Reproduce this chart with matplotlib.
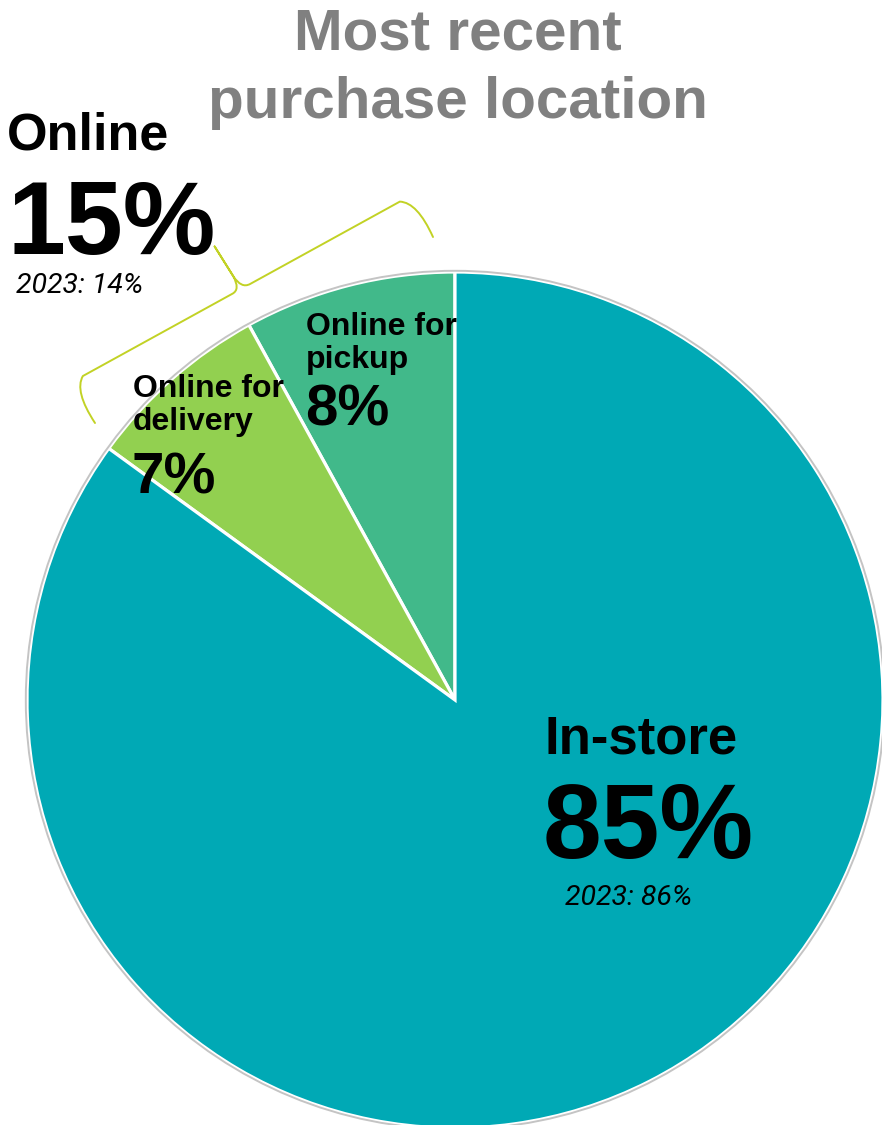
import numpy as np
import matplotlib
matplotlib.use("Agg")
import matplotlib.pyplot as plt
from matplotlib.path import Path
from matplotlib.patches import PathPatch, Circle

# Share of most recent purchases by location (counter-clockwise from 12 o'clock)
segments = ["Online for pickup", "Online for delivery", "In-store"]
shares = [8, 7, 85]
colors = ["#41B98A", "#92D050", "#00A9B5"]

online_total = 15
online_prev = 14
instore_total = 85
instore_prev = 86

W, H = 882, 1125
fig = plt.figure(figsize=(W / 100, H / 100), dpi=100)
ax = fig.add_axes([0, 0, 1, 1])


def Y(p):
    """Convert a top-down pixel row to the axes' bottom-up y coordinate."""
    return H - p


cx, cy, r = 455, Y(700), 428
ax.pie(shares, colors=colors, startangle=90, counterclock=True,
       center=(cx, cy), radius=r,
       wedgeprops=dict(edgecolor="white", linewidth=2.3))
ax.add_patch(Circle((cx, cy), r + 1.2, fill=False, edgecolor="#C4C4C4", lw=1.4))
ax.set_xlim(0, W)
ax.set_ylim(0, H)
ax.set_aspect("equal")
ax.axis("off")

bold = dict(family="Liberation Sans", fontweight="bold", color="black")
note = dict(family="Roboto", fontweight="normal", style="italic", color="black")

# Title
ax.text(458, Y(50), "Most recent", ha="center", va="baseline", fontsize=42,
        family="Liberation Sans", fontweight="bold", color="#808080")
ax.text(458, Y(118), "purchase location", ha="center", va="baseline", fontsize=42,
        family="Liberation Sans", fontweight="bold", color="#808080")

# Online summary
ax.text(7, Y(150), "Online", ha="left", va="baseline", fontsize=37.5, **bold)
ax.text(8, Y(254), f"{online_total}%", ha="left", va="baseline", fontsize=75, **bold)
ax.text(16, Y(293), f"2023: {online_prev}%", ha="left", va="baseline", fontsize=20.5, **note)

# Segment labels
ax.text(306, Y(335), "Online for", ha="left", va="baseline", fontsize=23, **bold)
ax.text(306, Y(368), "pickup", ha="left", va="baseline", fontsize=23, **bold)
ax.text(305, Y(426), f"{shares[0]}%", ha="left", va="baseline", fontsize=42, **bold)

ax.text(133, Y(397), "Online for", ha="left", va="baseline", fontsize=23, **bold)
ax.text(133, Y(430), "delivery", ha="left", va="baseline", fontsize=23, **bold)
ax.text(132, Y(493), f"{shares[1]}%", ha="left", va="baseline", fontsize=42, **bold)

ax.text(544, Y(753), "In-store", ha="left", va="baseline", fontsize=38, **bold)
ax.text(543, Y(858), f"{instore_total}%", ha="left", va="baseline", fontsize=76, **bold)
ax.text(565, Y(905), f"2023: {instore_prev}%", ha="left", va="baseline", fontsize=20.5, **note)

# Curly brace grouping the two online segments
A = np.array([95.0, Y(423)])
B = np.array([433.0, Y(237)])
L = np.linalg.norm(B - A)
u = (B - A) / L
n = np.array([-u[1], u[0]])  # outward normal (away from the pie)
if np.dot(n, np.array([cx, cy]) - A) > 0:
    n = -n

h, tip, m = 47, 97, L / 2
local = [
    (0, 0), (-3, 38), (12, h),
    (m - 10, h), (m - 1, h), (m - 1, 62),
    (m - 3, tip),
    (m - 1, 62), (m, h), (m + 10, h),
    (L - 12, h), (L + 3, 38), (L, 0),
]
codes = [Path.MOVETO, Path.CURVE3, Path.CURVE3,
         Path.LINETO, Path.CURVE3, Path.CURVE3,
         Path.LINETO,
         Path.LINETO, Path.CURVE3, Path.CURVE3,
         Path.LINETO, Path.CURVE3, Path.CURVE3]
verts = [A + a * u + b * n for a, b in local]
ax.add_patch(PathPatch(Path(verts, codes), fill=False, edgecolor="#C2D225",
                       lw=1.4, capstyle="round", joinstyle="round"))

fig.savefig("out.png", dpi=100)
